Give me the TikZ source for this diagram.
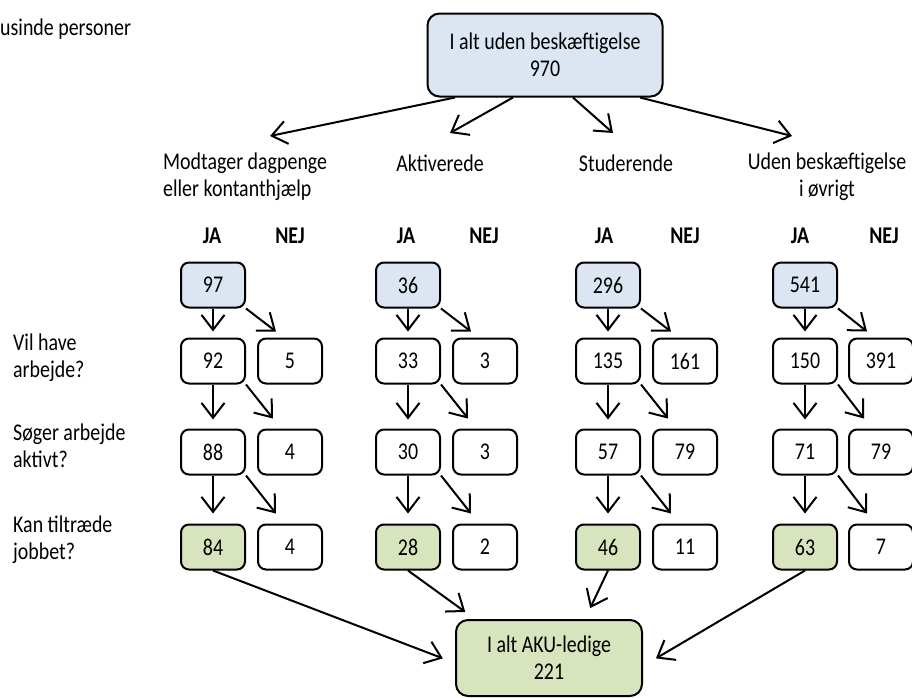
\documentclass[tikz,border=0pt]{standalone}
\usepackage{fontspec}
\setmainfont{Carlito}[FakeStretch=0.83]
\usetikzlibrary{positioning}
\usetikzlibrary{arrows.meta}
\definecolor{lysblaa}{HTML}{DCE6F2}
\definecolor{lysgroen}{HTML}{D7E4BD}

\begin{document}
\begin{tikzpicture}
		[x=1pt, y=-1pt,
		every node/.style={font=\fontsize{24}{27}\selectfont},
		tal/.style={draw=black, line width=2pt, rounded corners=8pt, minimum width=64pt, minimum height=45pt, inner sep=0pt},
		total/.style={tal, rounded corners=12pt, align=center},
		etikette/.style={inner sep=0pt, align=left},
		janej/.style={inner sep=0pt, font=\fontsize{24}{27}\selectfont\bfseries},
		pil/.style={line width=2pt, -{Straight Barb[length=15pt,width=23pt]}}]
		\useasboundingbox (0,0) rectangle (912,697);

		\node[etikette, anchor=west] (enhed) at (0,29) {usinde personer};

		\node[total, fill=lysblaa, minimum width=235pt, minimum height=83pt] (alt) at (545,55) {I alt uden beskæftigelse\\970};
		\node[total, fill=lysgroen, minimum width=186pt, minimum height=76pt] (aku) at (549,658) {I alt AKU-ledige\\221};

		\node[etikette, anchor=west] (ldag) at (163,177) {Modtager dagpenge\\eller kontanthjælp};
		\node[etikette] (lakt) at (440,163) {Aktiverede};
		\node[etikette] (lstu) at (626,163) {Studerende};
		\node[etikette, align=center] (lovr) at (827,177) {Uden beskæftigelse\\i øvrigt};

		\node[etikette, anchor=west] (qvil) at (13,358) {Vil have\\arbejde?};
		\node[etikette, anchor=west] (qsoe) at (13,446) {Søger arbejde\\aktivt?};
		\node[etikette, anchor=west] (qkan) at (13,540) {Kan tiltræde\\jobbet?};

		\node[janej] (jdag) at (212,236) {JA};
		\node[janej] (ndag) at (290,236) {NEJ};
		\node[janej] (jakt) at (406,236) {JA};
		\node[janej] (nakt) at (484,236) {NEJ};
		\node[janej] (jstu) at (604,236) {JA};
		\node[janej] (nstu) at (685,236) {NEJ};
		\node[janej] (jovr) at (800,236) {JA};
		\node[janej] (novr) at (884,236) {NEJ};

		% dagpenge og kontanthjaelp
		\node[tal, fill=lysblaa] (dag0) at (213,285) {97};
		\node[tal, below=29pt of dag0] (dag1j) {92};
		\node[tal, right=11pt of dag1j] (dag1n) {5};
		\node[tal, below=44pt of dag1j] (dag2j) {88};
		\node[tal, right=11pt of dag2j] (dag2n) {4};
		\node[tal, fill=lysgroen, below=48pt of dag2j] (dag3j) {84};
		\node[tal, right=11pt of dag3j] (dag3n) {4};

		% aktiverede
		\node[tal, fill=lysblaa] (akt0) at (408,285) {36};
		\node[tal, below=29pt of akt0] (akt1j) {33};
		\node[tal, right=11pt of akt1j] (akt1n) {3};
		\node[tal, below=44pt of akt1j] (akt2j) {30};
		\node[tal, right=11pt of akt2j] (akt2n) {3};
		\node[tal, fill=lysgroen, below=48pt of akt2j] (akt3j) {28};
		\node[tal, right=11pt of akt3j] (akt3n) {2};

		% studerende
		\node[tal, fill=lysblaa] (stu0) at (608,285) {296};
		\node[tal, below=29pt of stu0] (stu1j) {135};
		\node[tal, right=11pt of stu1j] (stu1n) {161};
		\node[tal, below=44pt of stu1j] (stu2j) {57};
		\node[tal, right=11pt of stu2j] (stu2n) {79};
		\node[tal, fill=lysgroen, below=48pt of stu2j] (stu3j) {46};
		\node[tal, right=11pt of stu3j] (stu3n) {11};

		% uden beskaeftigelse i oevrigt
		\node[tal, fill=lysblaa] (ovr0) at (805,285) {541};
		\node[tal, below=29pt of ovr0] (ovr1j) {150};
		\node[tal, right=10pt of ovr1j] (ovr1n) {391};
		\node[tal, below=44pt of ovr1j] (ovr2j) {71};
		\node[tal, right=10pt of ovr2j] (ovr2n) {79};
		\node[tal, fill=lysgroen, below=48pt of ovr2j] (ovr3j) {63};
		\node[tal, right=10pt of ovr3j] (ovr3n) {7};

		\coordinate (pdag) at (270,136);
		\coordinate (pakt) at (450,133);
		\coordinate (pstu) at (613,133);
		\coordinate (povr) at (792,136);

		\draw[pil] ([xshift=-90pt]alt.south) to (pdag);
		\draw[pil] ([xshift=-32pt]alt.south) to (pakt);
		\draw[pil] ([xshift=28pt]alt.south) to (pstu);
		\draw[pil] ([xshift=95pt]alt.south) to (povr);

		\draw[pil, shorten >=6pt] (dag0) to (dag1j);
		\draw[pil] (dag0.south east) to ([xshift=-14pt,yshift=6pt]dag1n.north);
		\draw[pil, shorten >=9pt] (dag1j) to (dag2j);
		\draw[pil] (dag1j.south east) to ([xshift=-17pt,yshift=10pt]dag2n.north);
		\draw[pil, shorten >=10pt] (dag2j) to (dag3j);
		\draw[pil] (dag2j.south east) to ([xshift=-14pt,yshift=10pt]dag3n.north);

		\draw[pil, shorten >=6pt] (akt0) to (akt1j);
		\draw[pil] (akt0.south east) to ([xshift=-14pt,yshift=6pt]akt1n.north);
		\draw[pil, shorten >=9pt] (akt1j) to (akt2j);
		\draw[pil] (akt1j.south east) to ([xshift=-17pt,yshift=10pt]akt2n.north);
		\draw[pil, shorten >=10pt] (akt2j) to (akt3j);
		\draw[pil] (akt2j.south east) to ([xshift=-14pt,yshift=10pt]akt3n.north);

		\draw[pil, shorten >=6pt] (stu0) to (stu1j);
		\draw[pil] (stu0.south east) to ([xshift=-14pt,yshift=6pt]stu1n.north);
		\draw[pil, shorten >=9pt] (stu1j) to (stu2j);
		\draw[pil] (stu1j.south east) to ([xshift=-17pt,yshift=10pt]stu2n.north);
		\draw[pil, shorten >=10pt] (stu2j) to (stu3j);
		\draw[pil] (stu2j.south east) to ([xshift=-14pt,yshift=10pt]stu3n.north);

		\draw[pil, shorten >=6pt] (ovr0) to (ovr1j);
		\draw[pil] (ovr0.south east) to ([xshift=-14pt,yshift=6pt]ovr1n.north);
		\draw[pil, shorten >=9pt] (ovr1j) to (ovr2j);
		\draw[pil] (ovr1j.south east) to ([xshift=-17pt,yshift=10pt]ovr2n.north);
		\draw[pil, shorten >=10pt] (ovr2j) to (ovr3j);
		\draw[pil] (ovr2j.south east) to ([xshift=-14pt,yshift=10pt]ovr3n.north);

		\draw[pil, shorten >=13pt] (dag3j.south) to ([yshift=-5pt]aku.west);
		\draw[pil, shorten >=12pt] (akt3j.south) to ([xshift=20pt]aku.north west);
		\draw[pil, shorten >=12pt] (stu3j.south) to ([xshift=-58pt]aku.north east);
		\draw[pil, shorten >=15pt] (ovr3j.south) to ([yshift=-8pt]aku.east);
	\end{tikzpicture}
\end{document}
